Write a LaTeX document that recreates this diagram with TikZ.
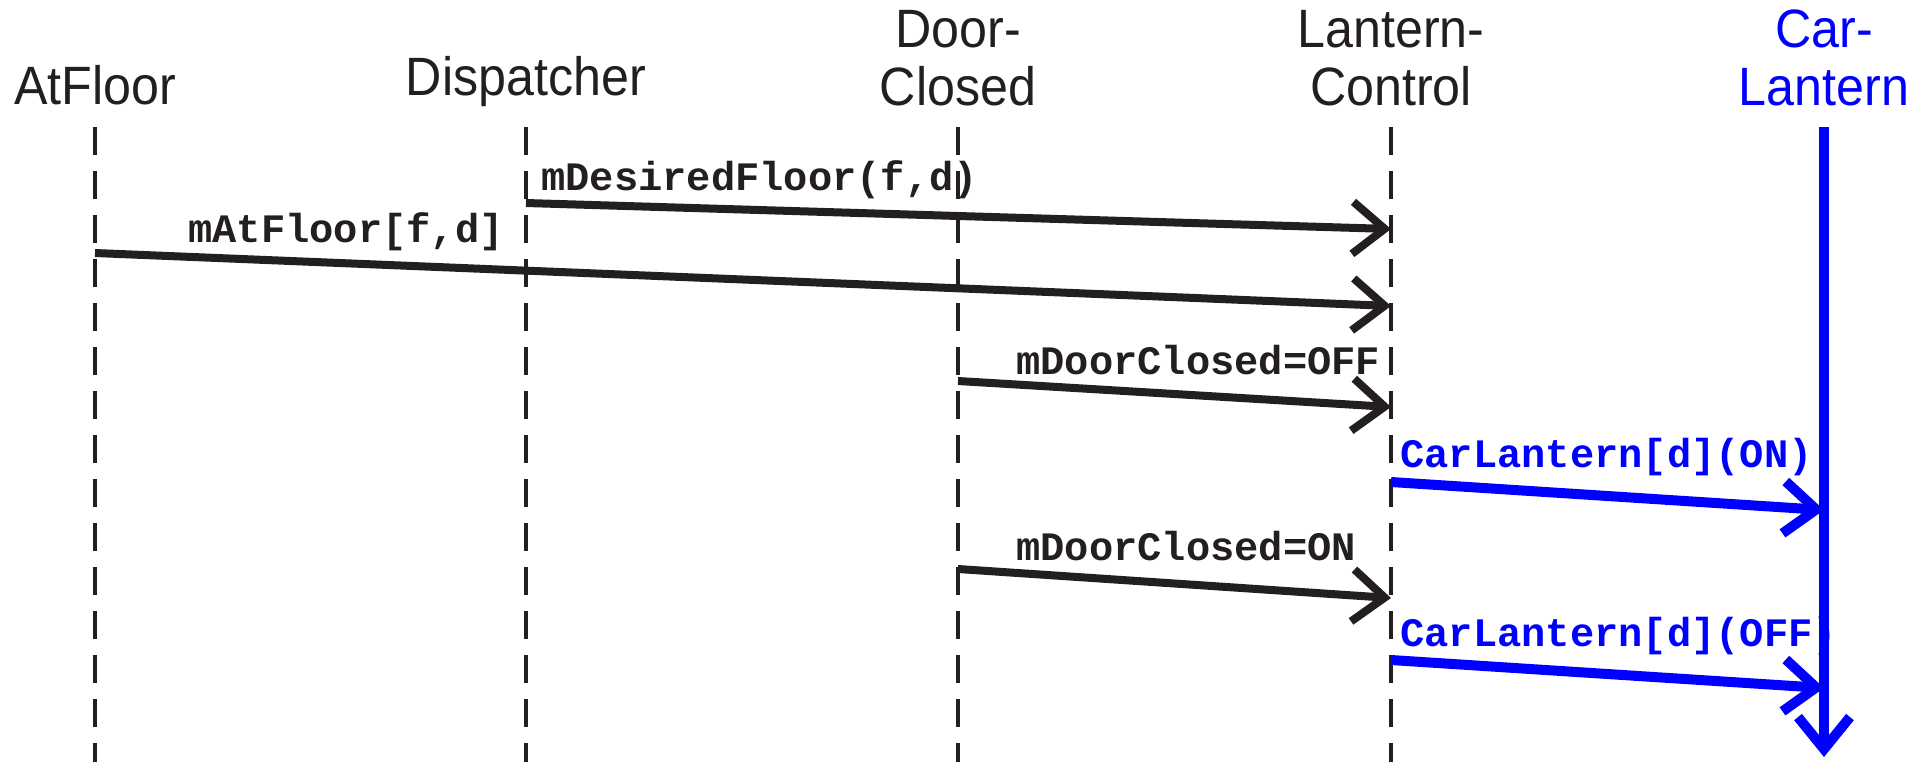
\documentclass[tikz,border=0pt]{standalone}
\usepackage{fontspec}
\setmainfont{Liberation Sans}[FakeStretch=0.93]
\setmonofont{Liberation Mono}
\usepackage{tikz}
\usepackage{xcolor}
\usetikzlibrary{arrows.meta, positioning}

\definecolor{ink}{RGB}{35,31,32}
\definecolor{lamp}{RGB}{0,0,255}

\begin{document}
\begin{tikzpicture}[x=0.5pt, y=-0.5pt,
        title/.style={anchor=base, align=center, inner sep=0pt, text=ink, font=\fontsize{27}{29}\selectfont},
        lifeline/.style={draw=ink, line width=2.2pt, dash pattern=on 14pt off 8pt},
        msg/.style={draw=ink, line width=4pt, -{Straight Barb[length=16pt, width=26pt]}},
        lampmsg/.style={draw=lamp, line width=5pt, -{Straight Barb[length=16pt, width=26pt]}},
        msglabel/.style={anchor=base west, inner sep=0pt, text=ink, font=\fontsize{20.2}{22}\selectfont\ttfamily\bfseries}]
        \useasboundingbox (0,0) rectangle (1927,762);

        \node[title] (atfloor) at (95,104) {AtFloor};
        \node[title] (dispatcher) at (526,95) {Dispatcher};
        \node[title] (doorclosed) at (958,105) {Door-\\Closed};
        \node[title] (lanterncontrol) at (1391,105) {Lantern-\\Control};
        \node[title, text=lamp] (carlantern) at (1824,105) {Car-\\Lantern};

        \coordinate (atfloor-top) at (95,127);
        \coordinate (atfloor-end) at (95,762);
        \coordinate (dispatcher-top) at (526,127);
        \coordinate (dispatcher-end) at (526,762);
        \coordinate (doorclosed-top) at (958,127);
        \coordinate (doorclosed-end) at (958,762);
        \coordinate (lanterncontrol-top) at (1391,127);
        \coordinate (lanterncontrol-end) at (1391,762);
        \coordinate (carlantern-top) at (1824,127);
        \coordinate (carlantern-end) at (1824,757);

        \draw[lifeline] (atfloor-top) -- (atfloor-end);
        \draw[lifeline] (dispatcher-top) -- (dispatcher-end);
        \draw[lifeline] (doorclosed-top) -- (doorclosed-end);
        \draw[lifeline] (lanterncontrol-top) -- (lanterncontrol-end);
        \draw[lampmsg] (carlantern-top) -- (carlantern-end);

        \coordinate (m1a) at (526,203);
        \coordinate (m1b) at (1391,229);
        \coordinate (m2a) at (95,253);
        \coordinate (m2b) at (1391,306);
        \coordinate (m3a) at (958,381);
        \coordinate (m3b) at (1391,407);
        \coordinate (m4a) at (1391,482);
        \coordinate (m4b) at (1824,510);
        \coordinate (m5a) at (958,569);
        \coordinate (m5b) at (1391,598);
        \coordinate (m6a) at (1391,660);
        \coordinate (m6b) at (1824,688);

        \draw[msg] (m1a) -- (m1b);
        \draw[msg] (m2a) -- (m2b);
        \draw[msg] (m3a) -- (m3b);
        \draw[lampmsg] (m4a) -- (m4b);
        \draw[msg] (m5a) -- (m5b);
        \draw[lampmsg] (m6a) -- (m6b);

        \node[msglabel] (m1label) at (541,190) {mDesiredFloor(f,d)};
        \node[msglabel] (m2label) at (188,242) {mAtFloor[f,d]};
        \node[msglabel] (m3label) at (1016,374) {mDoorClosed=OFF};
        \node[msglabel, text=lamp] (m4label) at (1400,467) {CarLantern[d](ON)};
        \node[msglabel] (m5label) at (1016,560) {mDoorClosed=ON};
        \node[msglabel, text=lamp] (m6label) at (1400,646) {CarLantern[d](OFF)};
\end{tikzpicture}
\end{document}
